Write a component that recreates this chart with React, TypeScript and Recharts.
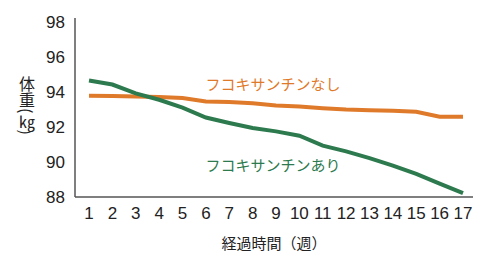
import { LineChart, Line, XAxis, YAxis, ReferenceDot } from "recharts";

// weeks 1..17
const weeks = [1, 2, 3, 4, 5, 6, 7, 8, 9, 10, 11, 12, 13, 14, 15, 16, 17];
// body weight (kg) without fucoxanthin
const without = [93.77, 93.75, 93.72, 93.7, 93.64, 93.44, 93.41, 93.34, 93.21, 93.16, 93.06, 92.98, 92.94, 92.91, 92.86, 92.58, 92.58];
// body weight (kg) with fucoxanthin
const withFx = [94.64, 94.41, 93.9, 93.54, 93.09, 92.53, 92.22, 91.93, 91.74, 91.49, 90.93, 90.6, 90.22, 89.79, 89.32, 88.76, 88.22];
const yTicks = [88, 90, 92, 94, 96, 98];

const labelWithout = "フコキサンチンなし";
const labelWith = "フコキサンチンあり";

const ORANGE = "#e07a2b";
const GREEN = "#2d7a4e";
const JP = "'Noto Sans CJK JP', 'Noto Sans', sans-serif";
const NUM = "'Liberation Sans', Arial, sans-serif";

const data = weeks.map((w, i) => ({ week: w, without: without[i], withFx: withFx[i] }));

export default function App() {
  return (
    <div style={{ position: "absolute", left: 0, top: 0, width: 498, height: 272, background: "#fff" }}>
      <LineChart width={498} height={272} data={data} margin={{ top: 18, right: 25, bottom: 0, left: 0 }}>
        <XAxis
          dataKey="week"
          height={75}
          padding={{ left: 14, right: 10 }}
          tickLine={false}
          tickSize={0}
          tickMargin={10}
          interval={0}
          axisLine={{ stroke: "#555", strokeWidth: 1.5 }}
          tick={{ fill: "#222", fontSize: 17, fontFamily: NUM }}
          label={{
            value: "経過時間（週）",
            position: "insideBottom",
            offset: 23,
            fill: "#222",
            fontSize: 15,
            fontFamily: JP,
          }}
        />
        <YAxis
          width={75}
          domain={[88, 98.2]}
          ticks={yTicks}
          tickLine={false}
          tickSize={0}
          tickMargin={10}
          axisLine={{ stroke: "#555", strokeWidth: 1.5 }}
          tick={{ fill: "#222", fontSize: 17, fontFamily: NUM }}
        />
        <Line
          dataKey="without"
          stroke={ORANGE}
          strokeWidth={4}
          dot={false}
          type="linear"
          isAnimationActive={false}
        />
        <Line
          dataKey="withFx"
          stroke={GREEN}
          strokeWidth={4}
          dot={false}
          type="linear"
          isAnimationActive={false}
        />
        <ReferenceDot
          x={9}
          y={94.4}
          r={0}
          fill="none"
          stroke="none"
          label={{ value: labelWithout, position: "center", fill: ORANGE, fontSize: 15, fontFamily: JP, dx: -3 }}
        />
        <ReferenceDot
          x={9}
          y={89.77}
          r={0}
          fill="none"
          stroke="none"
          label={{ value: labelWith, position: "center", fill: GREEN, fontSize: 15, fontFamily: JP, dx: -3 }}
        />
      </LineChart>
      <div
        style={{
          position: "absolute",
          left: 19,
          top: 76,
          writingMode: "vertical-rl",
          fontFamily: JP,
          fontSize: 16,
          lineHeight: "16px",
          color: "#222",
        }}
      >
        体重(<span style={{ textCombineUpright: "all" }}>kg</span>)
      </div>
    </div>
  );
}
